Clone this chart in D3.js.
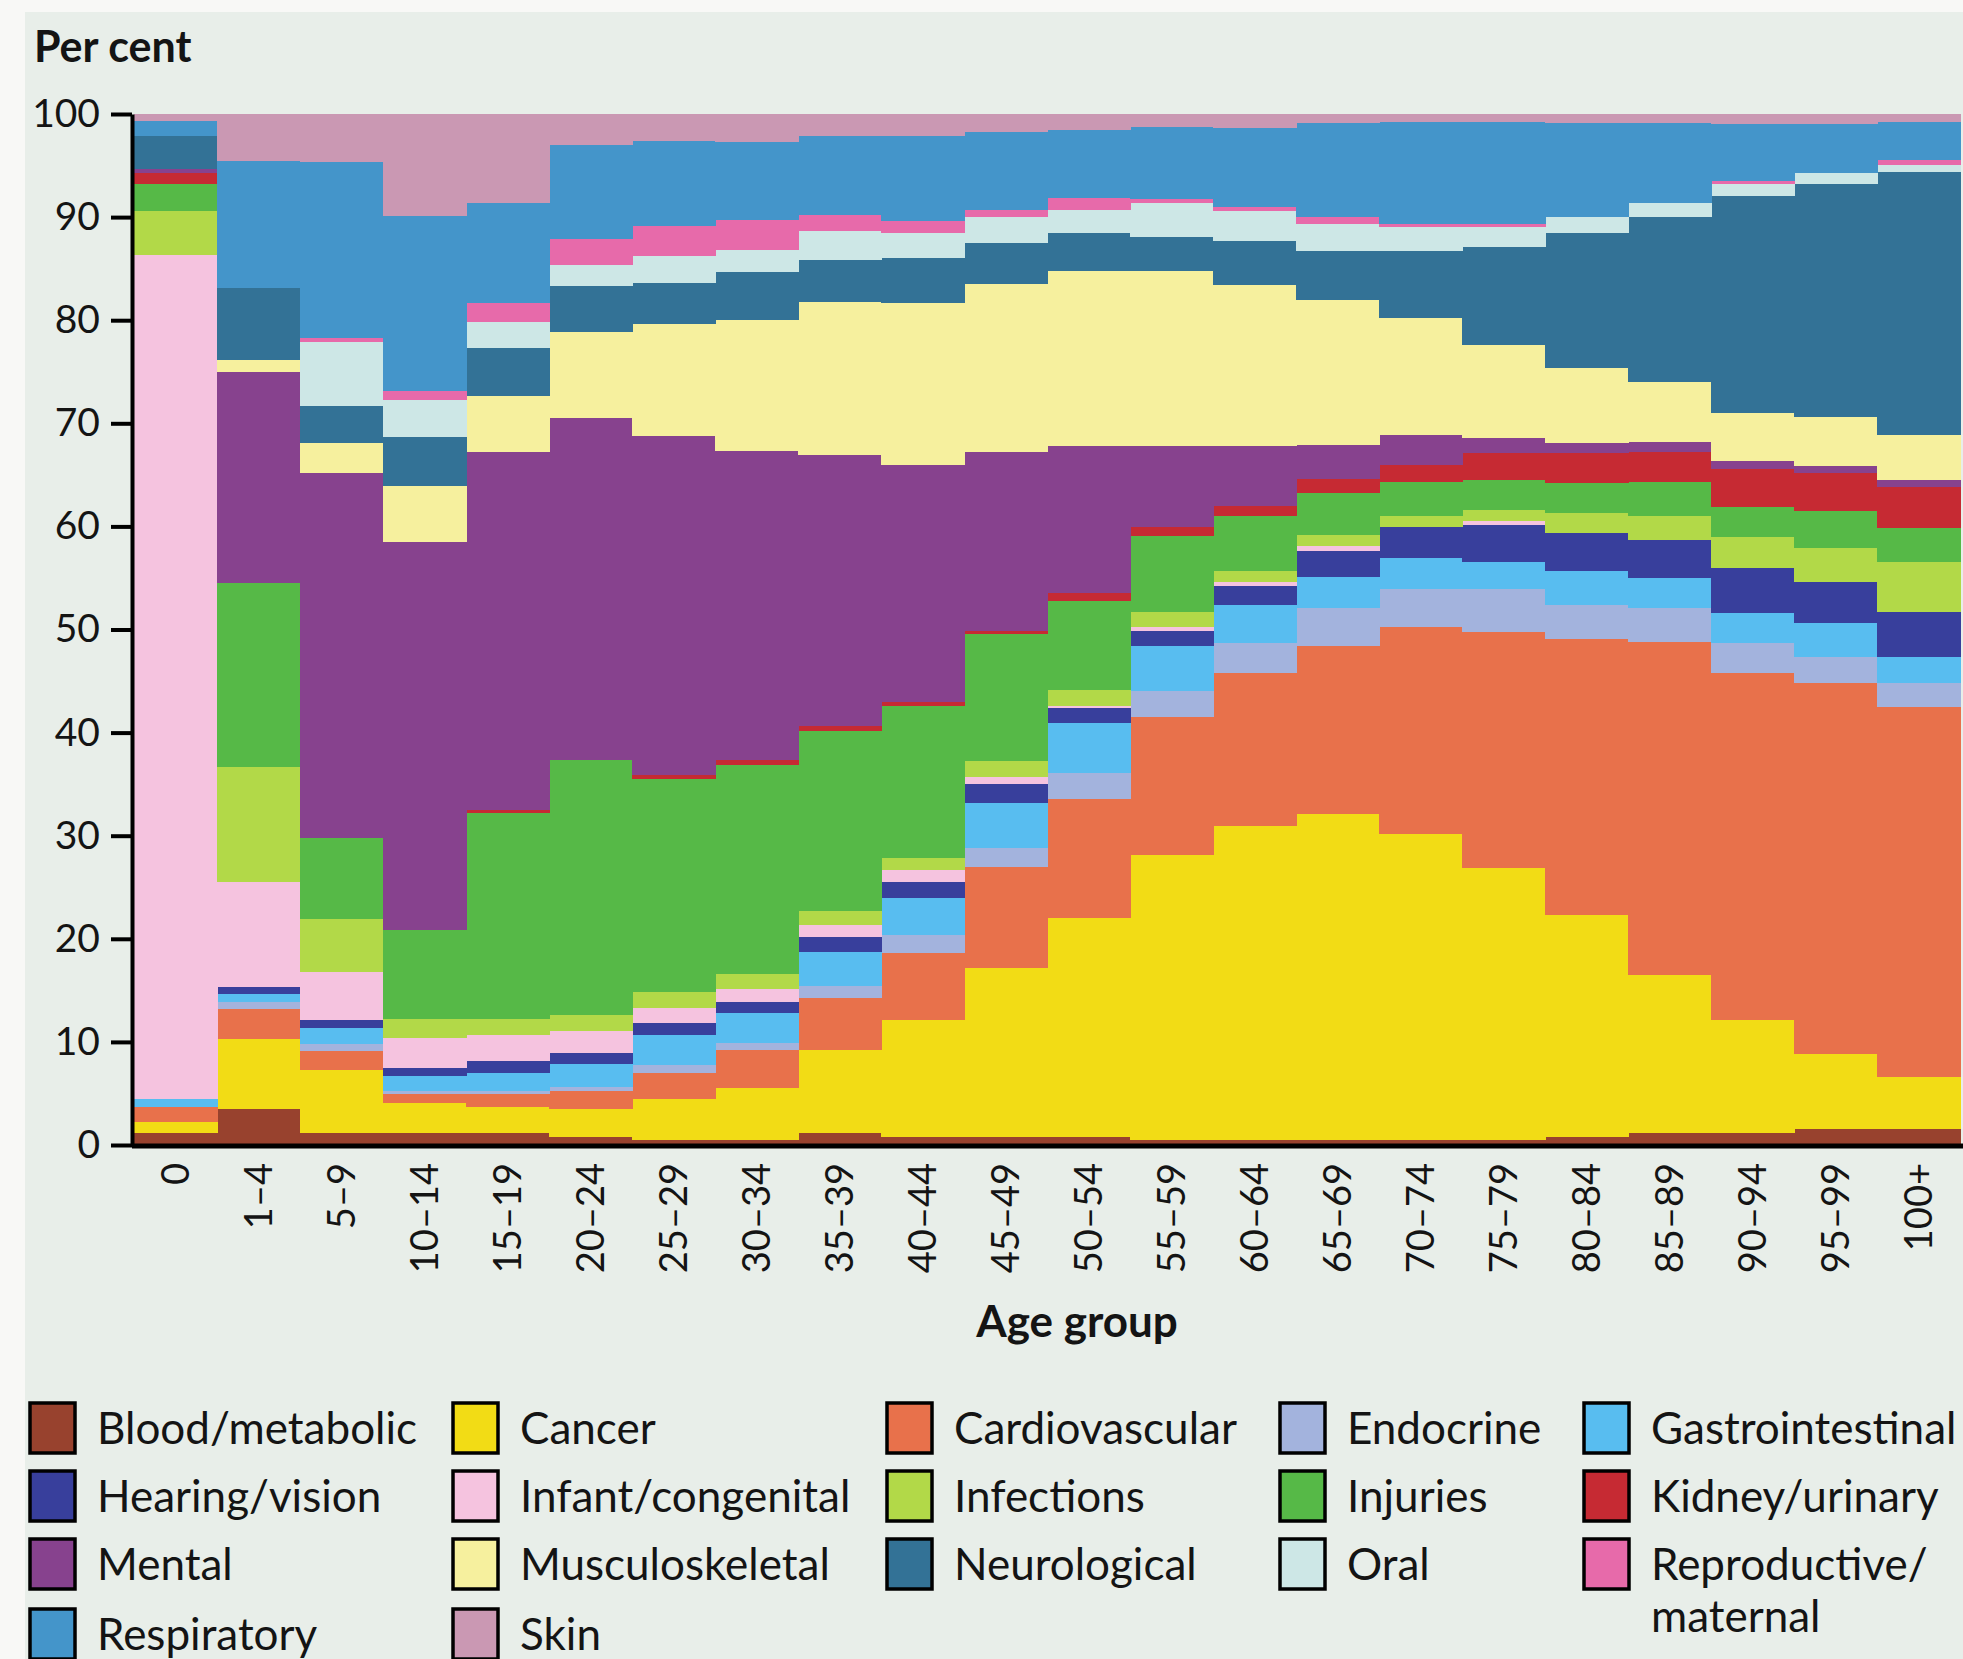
<!DOCTYPE html>
<html><head><meta charset="utf-8">
<script src="https://cdn.jsdelivr.net/npm/d3@7"></script>
<style>
html,body{margin:0;padding:0;background:#f8f8f6;}
svg{display:block;}
text{font-family:Lato,"Open Sans",sans-serif;fill:#141414;}
</style></head><body>
<svg id="chart" width="1963" height="1659"></svg>
<script>
// ---------- DATA (per cent of burden, by age group) ----------
const ageGroups = ["0","1–4","5–9","10–14","15–19","20–24","25–29","30–34","35–39","40–44","45–49","50–54","55–59","60–64","65–69","70–74","75–79","80–84","85–89","90–94","95–99","100+"];

const bloodMetabolic   = [1.2, 3.5, 1.2, 1.2, 1.2, 0.8, 0.5, 0.5, 1.2, 0.8, 0.8, 0.8, 0.5, 0.5, 0.5, 0.5, 0.5, 0.8, 1.2, 1.2, 1.6, 1.6];
const cancer           = [1.0, 6.8, 6.1, 2.9, 2.5, 2.7, 4.0, 5.0, 8.0, 11.3, 16.4, 21.2, 27.6, 30.4, 31.6, 29.7, 26.4, 21.5, 15.3, 10.9, 7.2, 5.0];
const cardiovascular   = [1.5, 2.9, 1.8, 0.8, 1.2, 1.7, 2.5, 3.7, 5.1, 6.5, 9.8, 11.6, 13.4, 14.9, 16.3, 20.0, 22.9, 26.8, 32.3, 33.7, 36.0, 35.9];
const endocrine        = [0.0, 0.7, 0.7, 0.3, 0.3, 0.4, 0.8, 0.7, 1.1, 1.8, 1.8, 2.5, 2.5, 2.9, 3.7, 3.7, 4.1, 3.3, 3.3, 2.9, 2.5, 2.3];
const gastrointestinal = [0.8, 0.7, 1.5, 1.5, 1.8, 2.3, 2.9, 2.9, 3.3, 3.6, 4.4, 4.8, 4.4, 3.7, 3.0, 3.0, 2.6, 3.3, 2.9, 2.9, 3.3, 2.5];
const hearingVision    = [0.0, 0.7, 0.8, 0.8, 1.1, 1.0, 1.1, 1.1, 1.5, 1.5, 1.8, 1.5, 1.5, 1.8, 2.5, 3.0, 3.6, 3.7, 3.7, 4.4, 4.0, 4.4];
const infantCongenital = [81.8, 10.2, 4.7, 2.9, 2.6, 2.2, 1.5, 1.2, 1.1, 1.2, 0.7, 0.2, 0.3, 0.4, 0.5, 0.0, 0.4, 0.0, 0.0, 0.0, 0.0, 0.0];
const infections       = [4.3, 11.2, 5.1, 1.8, 1.5, 1.5, 1.5, 1.5, 1.4, 1.1, 1.5, 1.5, 1.5, 1.1, 1.1, 1.1, 1.1, 1.9, 2.3, 3.0, 3.3, 4.8];
const injuries         = [2.6, 17.8, 7.9, 8.7, 20.0, 24.7, 20.7, 20.3, 17.5, 14.8, 12.4, 8.7, 7.4, 5.3, 4.0, 3.3, 2.9, 2.9, 3.3, 2.9, 3.6, 3.3];
const kidneyUrinary    = [1.1, 0.0, 0.0, 0.0, 0.3, 0.0, 0.4, 0.4, 0.4, 0.4, 0.3, 0.7, 0.8, 1.0, 1.4, 1.7, 2.6, 2.9, 2.9, 3.7, 3.7, 4.0];
const mental           = [0.4, 20.5, 35.4, 37.6, 34.7, 33.2, 32.9, 30.0, 26.3, 23.0, 17.3, 14.3, 7.9, 5.8, 3.3, 2.9, 1.5, 1.0, 1.0, 0.7, 0.7, 0.7];
const musculoskeletal  = [0.0, 1.1, 2.9, 5.4, 5.4, 8.4, 10.8, 12.7, 14.9, 15.7, 16.3, 17.0, 17.0, 15.6, 14.1, 11.3, 9.0, 7.3, 5.8, 4.7, 4.7, 4.4];
const neurological     = [3.2, 7.0, 3.6, 4.8, 4.7, 4.4, 4.0, 4.7, 4.0, 4.3, 4.0, 3.7, 3.3, 4.3, 4.7, 6.5, 9.5, 13.1, 16.0, 21.0, 22.6, 25.5];
const oral             = [0.0, 0.0, 6.2, 3.6, 2.5, 2.1, 2.6, 2.1, 2.9, 2.5, 2.5, 2.2, 3.3, 2.9, 2.6, 2.3, 1.9, 1.5, 1.4, 1.2, 1.1, 0.7];
const reproductive     = [0.0, 0.0, 0.4, 0.8, 1.9, 2.5, 2.9, 2.9, 1.5, 1.1, 0.7, 1.2, 0.4, 0.4, 0.7, 0.3, 0.3, 0.0, 0.0, 0.3, 0.0, 0.4];
const respiratory      = [1.4, 12.3, 17.0, 17.0, 9.7, 9.1, 8.3, 7.6, 7.7, 8.3, 7.6, 6.5, 6.9, 7.6, 9.1, 9.9, 9.9, 9.1, 7.7, 5.5, 4.7, 3.7];
const skin             = [0.7, 4.6, 4.7, 9.9, 8.6, 3.0, 2.6, 2.7, 2.1, 2.1, 1.7, 1.6, 1.3, 1.4, 0.9, 0.8, 0.8, 0.9, 0.9, 1.0, 1.0, 0.8];

const seriesNames = ["Blood/metabolic","Cancer","Cardiovascular","Endocrine","Gastrointestinal","Hearing/vision","Infant/congenital","Infections","Injuries","Kidney/urinary","Mental","Musculoskeletal","Neurological","Oral","Reproductive/maternal","Respiratory","Skin"];
const seriesValues = [bloodMetabolic,cancer,cardiovascular,endocrine,gastrointestinal,hearingVision,infantCongenital,infections,injuries,kidneyUrinary,mental,musculoskeletal,neurological,oral,reproductive,respiratory,skin];
const seriesColors = ["#98422e","#f2dc15","#e8714b","#a3b3dd","#58bdf0","#383f9c","#f5c3df","#b2d948","#56b947","#c62a33","#87428e","#f6f09e","#337296","#cde7e6","#e76aaa","#4495ca","#ca98b3"];
const yTicks = [0,10,20,30,40,50,60,70,80,90,100];

// ---------- CHART ----------
const svg = d3.select("#chart");
svg.append("rect").attr("x",25).attr("y",12).attr("width",1938).attr("height",1647).attr("fill","#e8eee9");

const table = ageGroups.map((a,i)=>{
  const row = {age:a};
  seriesNames.forEach((s,j)=>row[s]=seriesValues[j][i]);
  return row;
});
const stacked = d3.stack().keys(seriesNames)(table);

const x = d3.scaleBand().domain(ageGroups).range([134,1960]).padding(0);
const y = d3.scaleLinear().domain([0,100]).range([1145,114]);
const color = d3.scaleOrdinal().domain(seriesNames).range(seriesColors);

svg.append("g").selectAll("g").data(stacked).join("g")
  .attr("fill",d=>color(d.key))
  .selectAll("rect").data(d=>d).join("rect")
  .attr("x",d=>x(d.data.age))
  .attr("width",x.bandwidth()+0.5)
  .attr("y",d=>y(d[1]))
  .attr("height",d=>Math.max(0,y(d[0])-y(d[1])))
  .attr("shape-rendering","crispEdges");

// y axis
const yAxis = svg.append("g").attr("transform","translate(132,0)")
  .call(d3.axisLeft(y).tickValues(yTicks).tickSize(21).tickPadding(11).tickSizeOuter(0));
yAxis.select(".domain").attr("stroke","#000").attr("stroke-width",4);
yAxis.selectAll(".tick line").attr("stroke","#000").attr("stroke-width",4);
yAxis.selectAll(".tick text").attr("font-size",39).attr("font-family","Lato").attr("fill","#141414");

// x axis
const xAxis = svg.append("g").attr("transform","translate(0,1146)")
  .call(d3.axisBottom(x).tickSize(0));
xAxis.select(".domain").remove();
xAxis.append("line").attr("x1",x.range()[0]-2).attr("x2",1963).attr("y1",0).attr("y2",0)
  .attr("stroke","#000").attr("stroke-width",5);
xAxis.selectAll(".tick text")
  .attr("transform","rotate(-90)")
  .attr("x",-17).attr("y",0).attr("dy","0.36em")
  .attr("text-anchor","end")
  .attr("font-size",38).attr("font-family","Lato").attr("fill","#141414");

// titles
svg.append("text").attr("x",34).attr("y",62).attr("font-size",43).attr("font-weight",700).text("Per cent");
svg.append("text").attr("x",1077).attr("y",1337).attr("text-anchor","middle").attr("font-size",44).attr("font-weight",700).text("Age group");

// legend
const legendColX = [30,453,887,1280,1584];
const legendRowY = [1428,1496,1564,1634];
const leg = svg.append("g").selectAll("g").data(seriesNames).join("g")
  .attr("transform",(d,i)=>`translate(${legendColX[i%5]},${legendRowY[Math.floor(i/5)]})`);
leg.append("rect").attr("x",0).attr("y",-25).attr("width",45).attr("height",50)
  .attr("fill",d=>color(d)).attr("stroke","#000").attr("stroke-width",3.5);
leg.each(function(d){
  const t = d3.select(this).append("text").attr("x",67).attr("y",0).attr("dy","0.36em").attr("font-size",44);
  if(d==="Reproductive/maternal"){
    t.append("tspan").attr("x",67).text("Reproductive/");
    t.append("tspan").attr("x",67).attr("dy","1.18em").text("maternal");
  } else t.text(d);
});
</script>
</body></html>
